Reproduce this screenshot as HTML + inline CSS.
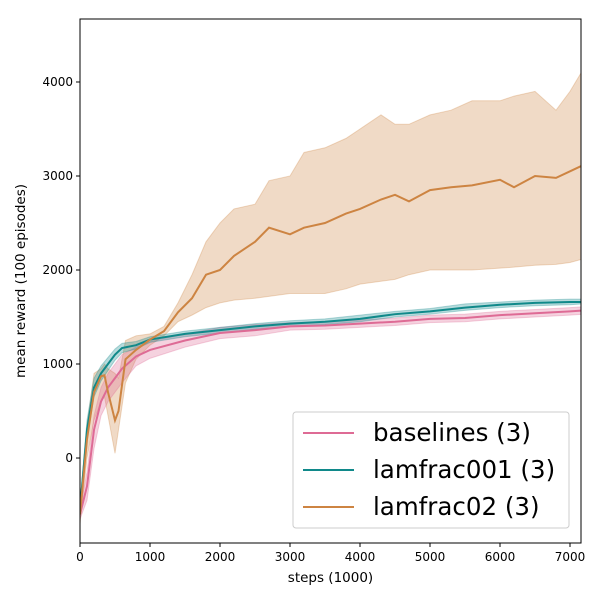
<!DOCTYPE html>
<html><head><meta charset="utf-8"><style>
html,body{margin:0;padding:0;background:#fff;}
svg text{font-family:"DejaVu Sans","Liberation Sans",sans-serif;}
</style></head><body>
<svg id="chart" width="600" height="600">
<g id="plot"></g>
</svg>
<script>
const xTicks=[0,1000,2000,3000,4000,5000,6000,7000];
const yTicks=[0,1000,2000,3000,4000];
const baseX=[0,100,200,300,400,500,600,800,1000,1500,2000,2500,3000,3500,4000,4500,5000,5500,6000,6500,7000,7200];
const baseMean=[-600,-300,300,600,750,850,950,1080,1150,1250,1330,1360,1400,1410,1430,1450,1480,1490,1520,1540,1560,1570];
const baseLo=[-650,-450,100,450,600,700,800,980,1060,1180,1270,1300,1360,1370,1390,1410,1440,1450,1480,1500,1520,1530];
const baseHi=[-550,-150,450,750,900,1000,1100,1180,1240,1320,1390,1420,1440,1450,1470,1490,1520,1530,1560,1580,1600,1610];
const lamX=[0,100,200,300,400,500,600,800,1000,1500,2000,2500,3000,3500,4000,4500,5000,5500,6000,6500,7000,7200];
const lamMean=[-550,300,750,900,1000,1100,1170,1200,1260,1320,1360,1400,1430,1450,1480,1530,1560,1600,1630,1650,1660,1660];
const lamLo=[-600,200,650,820,930,1040,1120,1160,1230,1290,1330,1370,1400,1420,1450,1500,1530,1570,1600,1620,1630,1640];
const lamHi=[-500,400,850,980,1070,1160,1220,1240,1290,1350,1390,1430,1460,1480,1520,1560,1590,1640,1660,1680,1690,1690];
const o2X=[0,100,200,300,350,400,500,550,650,800,1000,1200,1400,1600,1800,2000,2200,2500,2700,3000,3200,3500,3800,4000,4300,4500,4700,5000,5300,5600,6000,6200,6500,6800,7000,7200];
const o2Mean=[-600,200,700,870,880,700,400,500,1050,1150,1260,1350,1550,1700,1950,2000,2150,2300,2450,2380,2450,2500,2600,2650,2750,2800,2730,2850,2880,2900,2960,2880,3000,2980,3050,3120];
const o2Lo=[-700,0,400,600,650,450,50,300,800,1050,1200,1300,1450,1520,1600,1650,1680,1700,1720,1750,1750,1750,1800,1850,1880,1900,1950,2000,2000,2000,2020,2030,2050,2060,2080,2120];
const o2Hi=[-500,350,900,950,1000,950,900,850,1250,1300,1320,1400,1650,1950,2300,2500,2650,2700,2950,3000,3250,3300,3400,3500,3650,3550,3550,3650,3700,3800,3800,3850,3900,3700,3900,4150];
const names=["baselines (3)","lamfrac001 (3)","lamfrac02 (3)"];

const L=80,R=581,T=19,B=543;
const xMin=0,xMax=7157,yMin=-904,yMax=4670;
const sx=v=>L+(v-xMin)/(xMax-xMin)*(R-L);
const sy=v=>B-(v-yMin)/(yMax-yMin)*(B-T);
const NS="http://www.w3.org/2000/svg";
const svg=document.getElementById('chart');
const plot=document.getElementById('plot');
function mk(tag,attrs,parent){const e=document.createElementNS(NS,tag);for(const k in attrs)e.setAttribute(k,attrs[k]);(parent||svg).appendChild(e);return e;}
const cp=mk('clipPath',{id:'clip'});mk('rect',{x:L,y:T,width:R-L,height:B-T},cp);
plot.setAttribute('clip-path','url(#clip)');
function band(xs,lo,hi,color,name){
  let d='M'+xs.map((x,i)=>sx(x)+','+sy(hi[i])).join('L');
  for(let i=xs.length-1;i>=0;i--)d+='L'+sx(xs[i])+','+sy(lo[i]);
  const p=mk('path',{d:d+'Z',fill:color,'fill-opacity':0.3,stroke:color,'stroke-opacity':0.3},plot);
  
  
}
function line(xs,ys,color,name){
  const p=mk('polyline',{points:xs.map((x,i)=>sx(x)+','+sy(ys[i])).join(' '),fill:'none',stroke:color,'stroke-width':2},plot);
  
  
}
const cB='#de6b95',cL='#10898a',cO='#cd8442';
band(o2X,o2Lo,o2Hi,cO,'lamfrac02');
band(baseX,baseLo,baseHi,cB,'baselines');
band(lamX,lamLo,lamHi,cL,'lamfrac001');
line(baseX,baseMean,cB,'baselines');
line(lamX,lamMean,cL,'lamfrac001');
line(o2X,o2Mean,cO,'lamfrac02');
const frame=mk('rect',{x:L,y:T,width:R-L,height:B-T,fill:'none',stroke:'#000','stroke-width':1});


xTicks.forEach(v=>{
  const x=sx(v);
  mk('line',{x1:x,x2:x,y1:B,y2:B+4,stroke:'#000'});
  const t=mk('text',{x:x,y:B+18,'text-anchor':'middle','font-size':12});t.textContent=v;
  
  
});
yTicks.forEach(v=>{
  const y=sy(v);
  mk('line',{x1:L-4,x2:L,y1:y,y2:y,stroke:'#000'});
  const t=mk('text',{x:L-7,y:y+4,'text-anchor':'end','font-size':12});t.textContent=v;
  
  
});
const xt=mk('text',{x:(L+R)/2,y:582,'text-anchor':'middle','font-size':13.5});xt.textContent='steps (1000)';


const yt=mk('text',{x:25,y:(T+B)/2,'text-anchor':'middle','font-size':13.5,transform:'rotate(-90 25 '+((T+B)/2)+')'});yt.textContent='mean reward (100 episodes)';


const lg=mk('g',{});


mk('rect',{x:293,y:412,width:276,height:116,rx:3,fill:'#fff','fill-opacity':0.85,stroke:'#ccc'},lg);
[cB,cL,cO].forEach((c,i)=>{
  const y=433+i*37;
  const e=mk('g',{},lg);
  
  
  mk('line',{x1:303,x2:354,y1:y,y2:y,stroke:c,'stroke-width':2},e);
  const t=mk('text',{x:373,y:y+8,'font-size':24.5},e);t.textContent=names[i];
});
</script>
</body></html>
